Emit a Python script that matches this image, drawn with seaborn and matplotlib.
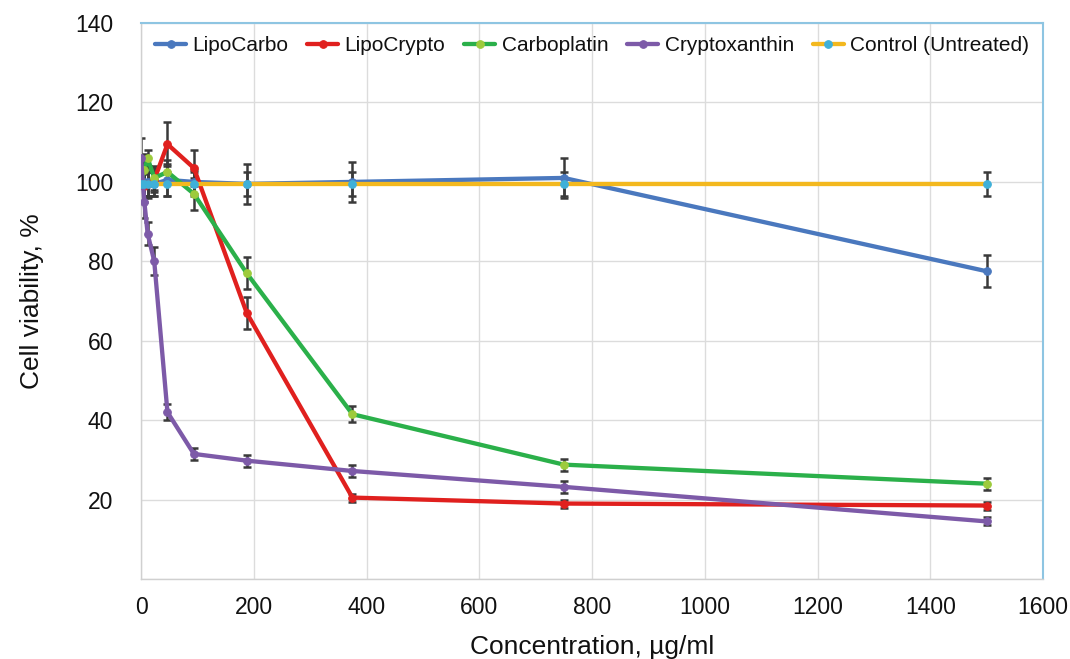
import numpy as np
import pandas as pd
import matplotlib
matplotlib.use('Agg')
import matplotlib.pyplot as plt
import seaborn as sns

# concentrations (ug/ml)
conc = [0, 5.86, 11.72, 23.44, 46.88, 93.75, 187.5, 375, 750, 1500]

# cell viability, %
lipo_carbo = [100, 100, 100, 99.5, 100.5, 100, 99.5, 100, 101, 77.5]
lipo_crypto = [100, 99, 99.5, 100.5, 109.5, 103.5, 67, 20.5, 19, 18.5]
carboplatin = [100, 103, 106, 101, 102.5, 97, 77, 41.5, 28.8, 24]
cryptoxanthin = [106, 95, 87, 80, 42, 31.5, 29.8, 27.2, 23.2, 14.5]
control = [99.5, 99.5, 99.5, 99.5, 99.5, 99.5, 99.5, 99.5, 99.5, 99.5]

# error bars (+/-)
err_lipo_carbo = [5, 5, 4, 3, 4, 3, 5, 5, 5, 4]
err_lipo_crypto = [3, 3, 3, 3, 5.5, 4.5, 4, 1, 1, 1]
err_carboplatin = [4, 4, 2, 3, 3, 4, 4, 2, 1.5, 1.5]
err_cryptoxanthin = [5, 4, 3, 3.5, 2, 1.5, 1.5, 1.5, 1.5, 1]
err_control = [3, 3, 3, 3, 3, 3, 3, 3, 3, 3]

series = ['LipoCarbo', 'LipoCrypto', 'Carboplatin', 'Cryptoxanthin', 'Control (Untreated)']
line_colors = ['#4A78BE', '#E0201E', '#2BB04A', '#7D5AA8', '#F3B81E']
marker_colors = ['#4A78BE', '#E0201E', '#9DCB3C', '#7D5AA8', '#3FB0D8']

values = [lipo_carbo, lipo_crypto, carboplatin, cryptoxanthin, control]
errors = [err_lipo_carbo, err_lipo_crypto, err_carboplatin, err_cryptoxanthin, err_control]

rows = []
for name, vals, errs in zip(series, values, errors):
    for c, v, e in zip(conc, vals, errs):
        rows.append({'Concentration': c, 'Viability': v, 'Err': e, 'Series': name})
df = pd.DataFrame(rows)

sns.set_style('white')
plt.rcParams['font.family'] = ['Liberation Sans', 'DejaVu Sans']
plt.rcParams['text.color'] = '#111111'
plt.rcParams['axes.labelcolor'] = '#111111'
plt.rcParams['xtick.color'] = '#111111'
plt.rcParams['ytick.color'] = '#111111'

fig = plt.figure(figsize=(10.7, 6.59), dpi=100)
ax = fig.add_axes([0.1318, 0.1214, 0.843, 0.8436])

# error bars first, under the lines
for name in series:
    d = df[df['Series'] == name]
    ax.errorbar(d['Concentration'], d['Viability'], yerr=d['Err'], fmt='none',
                ecolor='#3A3A3A', elinewidth=1.8, capsize=3, capthick=1.8, zorder=2)

for i, name in enumerate(series):
    d = df[df['Series'] == name]
    sns.lineplot(data=d, x='Concentration', y='Viability', ax=ax, color=line_colors[i],
                 linewidth=3.1, marker='o', markersize=5.5, markerfacecolor=marker_colors[i],
                 markeredgecolor=marker_colors[i], label=name, zorder=3 + i)

ax.set_xlim(0, 1600)
ax.set_ylim(0, 140)
ax.set_xticks(range(0, 1601, 200))
ax.set_yticks(range(0, 141, 20))
ax.set_yticklabels([''] + [str(v) for v in range(20, 141, 20)])
ax.tick_params(axis='both', length=0, labelsize=16.5)
ax.tick_params(axis='x', pad=12)
ax.tick_params(axis='y', pad=20)
ax.grid(True, color='#DCDCDC', linewidth=1)
ax.set_axisbelow(True)

for side in ['top', 'right']:
    ax.spines[side].set_color('#8EC5E2')
    ax.spines[side].set_linewidth(1.5)
for side in ['left', 'bottom']:
    ax.spines[side].set_color('#D0D0D0')
    ax.spines[side].set_linewidth(1)

ax.set_xlabel('Concentration, \u00b5g/ml', fontsize=19, labelpad=12)
ax.set_ylabel('Cell viability, %', fontsize=19, labelpad=22)

ax.legend(loc='upper center', ncol=5, frameon=False, fontsize=15,
          bbox_to_anchor=(0.5, 1.01), handlelength=1.5, handletextpad=0.3,
          columnspacing=0.9)

fig.savefig('out.png', dpi=100)
